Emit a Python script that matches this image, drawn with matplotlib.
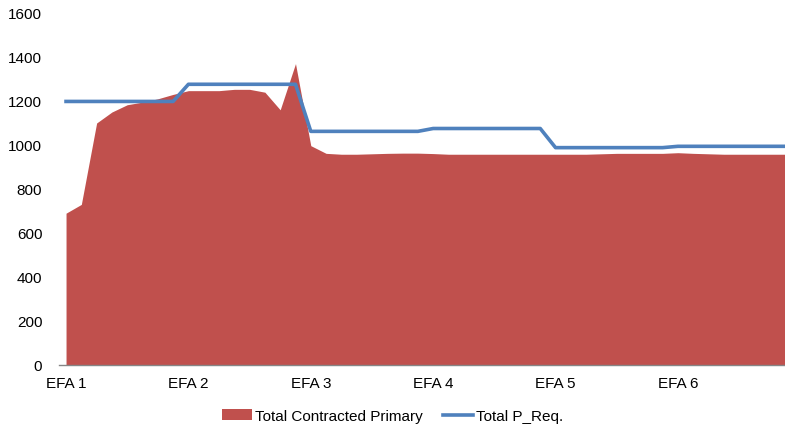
import matplotlib.pyplot as plt
import numpy as np
from matplotlib.patches import Patch
from matplotlib.lines import Line2D

plt.rcParams['font.family'] = ['Liberation Sans', 'DejaVu Sans']

# half-hourly settlement periods, 8 per EFA block
efa_labels = ["EFA 1", "EFA 2", "EFA 3", "EFA 4", "EFA 5", "EFA 6"]
efa_ticks = [0, 8, 16, 24, 32, 40]

contracted = [690, 730, 1100, 1150, 1183, 1195, 1210, 1230,
              1247, 1247, 1247, 1253, 1253, 1240, 1160, 1370,
              997, 962, 958, 958, 960, 962, 963, 963,
              961, 958, 958, 958, 958, 958, 958, 958,
              958, 958, 958, 960, 962, 962, 962, 962,
              965, 962, 960, 958, 958, 958, 958, 958]

p_req = [1198, 1198, 1198, 1198, 1198, 1198, 1198, 1198,
         1276, 1276, 1276, 1276, 1276, 1276, 1276, 1276,
         1062, 1062, 1062, 1062, 1062, 1062, 1062, 1062,
         1075, 1075, 1075, 1075, 1075, 1075, 1075, 1075,
         988, 988, 988, 988, 988, 988, 988, 988,
         994, 994, 994, 994, 994, 994, 994, 994]

red = "#C0504D"
blue = "#4F81BD"

fig = plt.figure(figsize=(7.85, 4.27), dpi=100)
ax = fig.add_axes([59/785, 1 - 366/427, 726/785, 352/427])

x = np.arange(len(contracted))
ax.fill_between(x, 0, contracted, color=red, linewidth=0)
ax.plot(x, p_req, color=blue, linewidth=2.6)

ax.set_xlim(-0.46, 47)
ax.set_ylim(0, 1600)
ax.set_yticks(range(0, 1601, 200))
ax.set_xticks(efa_ticks)
ax.set_xticklabels(efa_labels)
ax.tick_params(axis='both', length=0, labelsize=11, colors='black')
ax.tick_params(axis='x', pad=8)
ax.tick_params(axis='y', pad=12)

for s in ['top', 'right', 'left']:
    ax.spines[s].set_visible(False)
ax.spines['bottom'].set_color('#868686')
ax.spines['bottom'].set_linewidth(1)

handles = [Patch(facecolor=red, edgecolor='none'),
           Line2D([0], [0], color=blue, linewidth=2.6)]
fig.legend(handles, ["Total Contracted Primary", "Total P_Req."],
           loc='center', bbox_to_anchor=(0.5, 1 - 417/427), ncol=2,
           frameon=False, fontsize=11, handlelength=2.0, handletextpad=0.2,
           columnspacing=1.3)

fig.savefig("out.png", dpi=100)
